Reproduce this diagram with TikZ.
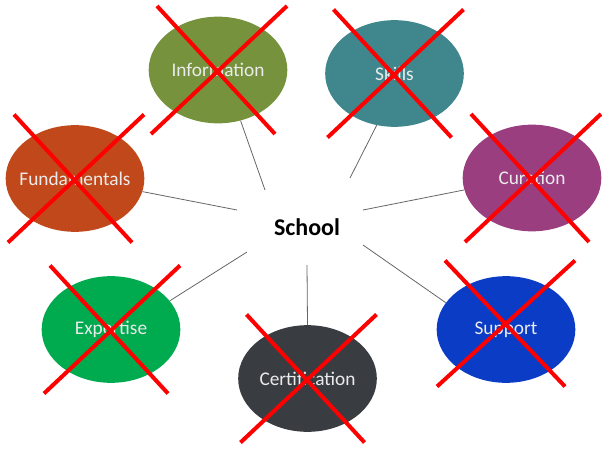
\documentclass[tikz,border=0pt]{standalone}
\usepackage{fontspec}
\setmainfont{Carlito}
\usetikzlibrary{shapes.geometric}
\definecolor{infofill}{HTML}{76923C}
\definecolor{skillfill}{HTML}{3F878C}
\definecolor{fundfill}{HTML}{C0481A}
\definecolor{curfill}{HTML}{9A3E80}
\definecolor{expfill}{HTML}{00AA4F}
\definecolor{certfill}{HTML}{393D42}
\definecolor{supfill}{HTML}{0A3CC6}
\tikzset{
% Bubbles round the hub, the links to them and the red crosses
bubble/.style={ellipse,draw=none,minimum width=104pt,minimum height=80pt,inner xsep=-20pt,inner ysep=0pt,text=white!92!black,font=\fontsize{14.5}{17}\selectfont},
hub/.style={font=\bfseries\fontsize{18}{21}\selectfont},
link/.style={draw=black!60,line width=0.6pt},
cross/.style={draw=red,line width=3pt}
}

\begin{document}
\begin{tikzpicture}[x=0.75pt,y=-0.75pt]
\useasboundingbox (0,0) rectangle (602,449);
\node[hub] (school) at (307,227) {School};
\node[bubble,fill=infofill] (info) at (218,70) {Information};
\node[bubble,fill=skillfill] (skills) at (394.5,73.5) {Skills};
\node[bubble,fill=fundfill] (fund) at (75,178.5) {Fundamentals};
\node[bubble,fill=curfill] (cur) at (532,178) {Curation};
\node[bubble,fill=expfill] (exp) at (111,329.5) {Expertise};
\node[bubble,fill=certfill] (cert) at (307.5,378.5) {Certification};
\node[bubble,fill=supfill] (sup) at (506,329.5) {Support};

\coordinate (s-info) at (265,190);
\coordinate (s-skills) at (350,178);
\coordinate (s-fund) at (237,210);
\coordinate (s-cur) at (363,210);
\coordinate (s-exp) at (247,252);
\coordinate (s-cert) at (307,265);
\coordinate (s-sup) at (363,245);

\path [link] (s-info) edge (info.-66);
\path [link] (s-skills) edge (skills.-109);
\path [link] (s-fund) edge (fund.-11);
\path [link] (s-cur) edge (cur.-170);
\path [link] (s-exp) edge (exp.26);
\path [link] (s-cert) edge (cert.90);
\path [link] (s-sup) edge (sup.156);

\foreach \n in {info,skills,fund,cur,exp,cert}
  \draw[cross,shift={(\n.center)}] (-61,-64) -- (57,64) (69,-64) -- (-67,64);
\draw[cross,shift={(sup.center)}] (-61,-69) -- (59,57) (69,-69) -- (-69,57);
\end{tikzpicture}
\end{document}
